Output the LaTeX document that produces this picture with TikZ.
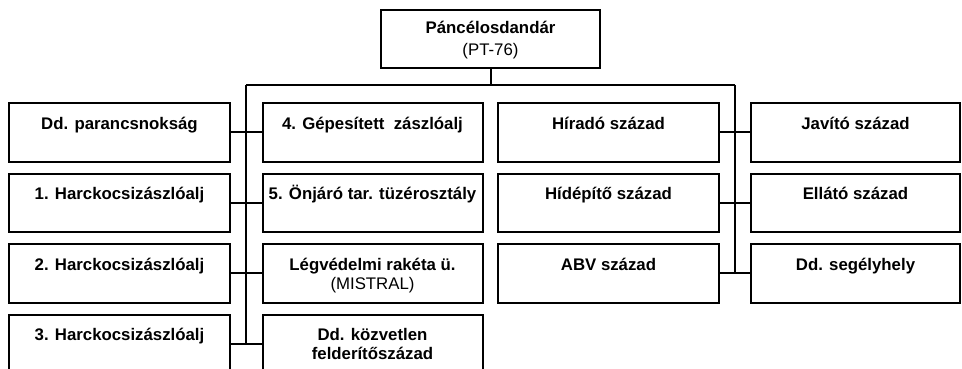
\documentclass[tikz,border=0pt]{standalone}
\usepackage{fontspec}
\setmainfont{Liberation Sans}
\tikzset{
  orgframe/.style={draw, line width=2pt, minimum height=58.5pt, anchor=north west, inner sep=0pt, outer sep=0pt},
  orgtext/.style={anchor=base, inner sep=0pt, outer sep=0pt, font=\fontsize{16.8}{19}\selectfont\bfseries},
  conn/.style={line width=2pt}
}
\newcommand{\orgbox}[5]{%
  \node[orgframe, minimum width=#4pt] (#1) at (#2,#3) {};
  \node[orgtext] (#1t) at ({#2+#4/2},{#3+26}) {\begin{tabular}[t]{@{}c@{}}#5\end{tabular}};%
}
\begin{document}
\begin{tikzpicture}[x=1pt,y=-1pt]
\useasboundingbox (0,0) rectangle (962,369);
\clip (0,0) rectangle (962,369);
% top
\node[orgframe, minimum width=219pt, minimum height=58pt] (top) at (381,10) {};
\node[orgtext] (topt) at (490.5,33.3) {\begin{tabular}[t]{@{}c@{}}Páncélosdandár\\[3.5pt] \mdseries(PT-76)\end{tabular}};
% column 1
\orgbox{a1}{9}{103}{221}{Dd. parancsnokság}
\orgbox{a2}{9}{173.5}{221}{1. Harckocsizászlóalj}
\orgbox{a3}{9}{244}{221}{2. Harckocsizászlóalj}
\orgbox{a4}{9}{314.5}{221}{3. Harckocsizászlóalj}
% column 2
\orgbox{b1}{262.5}{103}{220}{4. Gépesített\ \ zászlóalj}
\orgbox{b2}{262.5}{173.5}{220}{5. Önjáró tar. tüzérosztály}
\orgbox{b3}{262.5}{244}{220}{Légvédelmi rakéta ü.\\ \mdseries(MISTRAL)}
\orgbox{b4}{262.5}{314.5}{220}{Dd. közvetlen\\ felderítőszázad}
% column 3
\orgbox{c1}{498}{103}{221}{Híradó század}
\orgbox{c2}{498}{173.5}{221}{Hídépítő század}
\orgbox{c3}{498}{244}{221}{ABV század}
% column 4
\orgbox{d1}{751}{103}{209}{Javító század}
\orgbox{d2}{751}{173.5}{209}{Ellátó század}
\orgbox{d3}{751}{244}{209}{Dd. segélyhely}
% connectors
\coordinate (busL) at (246.25,85);
\coordinate (busR) at (735,85);
\draw[conn] (top.south) -- (top.south |- busL);
\draw[conn] (busL) -- (busR);
\draw[conn] (busL) -- (busL |- a4.east);
\draw[conn] (busR) -- (busR |- c3.east);
\draw[conn] (a1.east) -- (b1.west);
\draw[conn] (a2.east) -- (b2.west);
\draw[conn] (a3.east) -- (b3.west);
\draw[conn] (a4.east) -- (b4.west);
\draw[conn] (c1.east) -- (d1.west);
\draw[conn] (c2.east) -- (d2.west);
\draw[conn] (c3.east) -- (d3.west);
\end{tikzpicture}
\end{document}
